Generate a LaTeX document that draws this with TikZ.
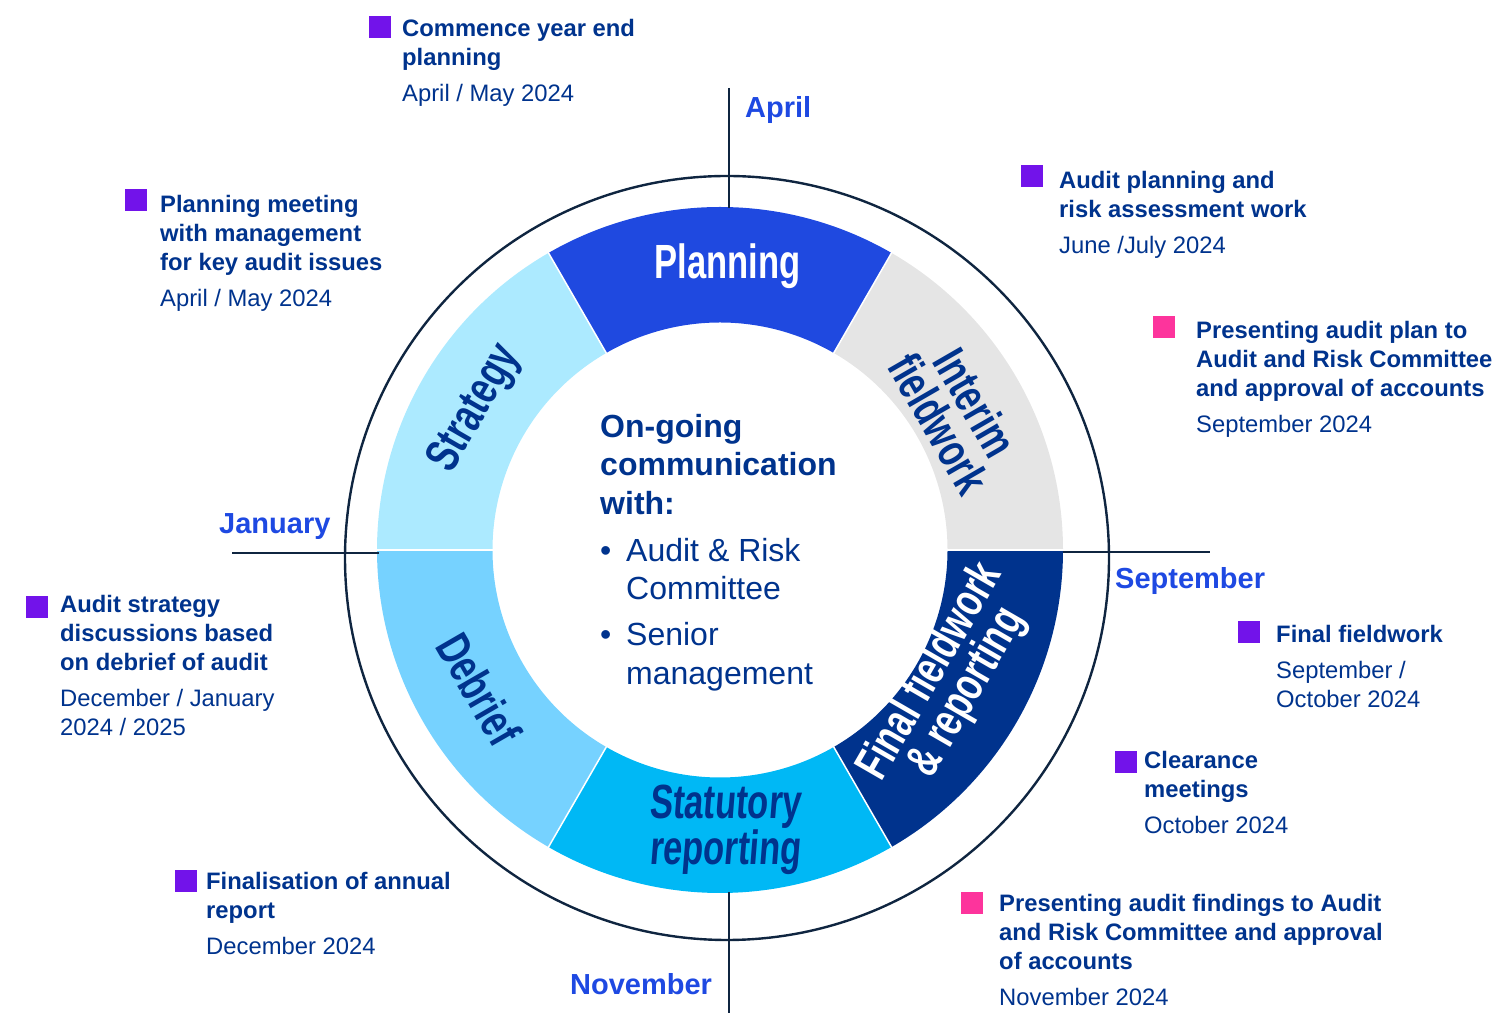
\documentclass[tikz,border=0pt]{standalone}
\usepackage{fontspec}
\setmainfont{Liberation Sans}
\newfontfamily\segfont[FakeStretch=0.72]{Liberation Sans}
\newfontfamily\segslant[FakeStretch=0.72,FakeSlant=0.08]{Liberation Sans}
\definecolor{auditnavy}{HTML}{00338D}
\definecolor{monthblue}{HTML}{1E49E2}
\definecolor{linenavy}{HTML}{0F2540}
\definecolor{planblue}{HTML}{1F49E0}
\definecolor{interimgray}{HTML}{E5E5E5}
\definecolor{finalnavy}{HTML}{00338D}
\definecolor{statblue}{HTML}{00B8F5}
\definecolor{debriefblue}{HTML}{76D2FF}
\definecolor{strategyblue}{HTML}{ACEAFF}
\definecolor{boxpurple}{HTML}{7213EA}
\definecolor{boxpink}{HTML}{FD349C}
\begin{document}
\begin{tikzpicture}[x=1pt,y=1pt,
    seg/.style={font=\segfont\bfseries\fontsize{48}{42}\selectfont, align=center, inner sep=0pt},
    month/.style={anchor=base west, inner sep=0pt, text=monthblue, font=\bfseries\fontsize{29}{34}\selectfont},
    task/.style={anchor=base west, align=left, inner sep=0pt, text=auditnavy, font=\fontsize{23.8}{29}\selectfont},
    tick/.style={line width=2.4pt, draw=linenavy},
    keybox/.style={fill=#1, minimum size=22pt, inner sep=0pt, anchor=south west}]
    \useasboundingbox (0,0) rectangle (1511,1016);
    \coordinate (C) at (720,466);
    % ring of phases
    \foreach \a/\col in {0/interimgray, 60/planblue, 120/strategyblue, 180/debriefblue, 240/statblue, 300/finalnavy}
        \fill[\col] ([shift={(\a:343pt)}]C) arc[start angle=\a, delta angle=60, radius=343pt]
            -- ([shift={(\a+60:227.5pt)}]C) arc[start angle=\a+60, delta angle=-60, radius=227.5pt] -- cycle;
    \foreach \a in {0,60,...,300}
        \draw[white, line width=1.5pt] ([shift={(\a:227pt)}]C) -- ([shift={(\a:344pt)}]C);
    % outer circle and month ticks
    \draw[tick] (727,458) circle[radius=382pt];
    \coordinate (aprA) at (729,928);  \coordinate (aprB) at (729,808);
    \coordinate (novA) at (729,124);  \coordinate (novB) at (729,3);
    \coordinate (janA) at (232,463);  \coordinate (janB) at (379,463);
    \coordinate (sepA) at (1063,464); \coordinate (sepB) at (1210,464);
    \draw[tick] (aprA) -- (aprB);
    \draw[tick] (novA) -- (novB);
    \draw[tick] (janA) -- (janB);
    \draw[tick] (sepA) -- (sepB);
    % phase names
    \node[seg, text=white] (planning) at ([shift={(88.5:284pt)}]C) {Planning};
    \node[seg, text=auditnavy, rotate=-60] (interim) at ([shift={(30:274pt)}]C) {Interim\\fieldwork};
    \node[seg, text=white, rotate=60] (final) at ([shift={(-30:265pt)}]C) {Final fieldwork\\\& reporting};
    \node[seg, text=auditnavy, font=\segslant\bfseries\fontsize{48}{42}\selectfont] (statutory) at ([shift={(-89:280pt)}]C) {Statutory\\reporting};
    \node[seg, text=auditnavy, rotate=-60] (debrief) at ([shift={(210:278pt)}]C) {Debrief};
    \node[seg, text=auditnavy, rotate=60] (strategy) at ([shift={(150:282pt)}]C) {Strategy};
    % centre (anchored on the last line)
    \node[anchor=base west, align=left, inner sep=0pt, text=auditnavy, font=\fontsize{32}{38.5}\selectfont] (comms) at (600,331.5)
        {\textbf{On-going}\\\textbf{communication}\\\textbf{with:}\\[8.5pt]\makebox[26pt][l]{\textbullet}Audit \& Risk\\\hspace*{26pt}Committee\\[7.5pt]\makebox[26pt][l]{\textbullet}Senior\\\hspace*{26pt}management};
    % months
    \node[month] (april) at (745,898.5) {April};
    \node[month] (january) at (219,482.5) {January};
    \node[month] (september) at (1115,427.5) {September};
    \node[month] (november) at (570,21.5) {November};
    % tasks (anchored on the date line)
    \node[keybox=boxpurple] (sq1) at (369,978) {};
    \node[task] (t1) at (402,914.5) {\textbf{Commence year end}\\\textbf{planning}\\[7pt]April / May 2024};
    \node[keybox=boxpurple] (sq2) at (125,805) {};
    \node[task] (t2) at (160,709.5) {\textbf{Planning meeting}\\\textbf{with management}\\\textbf{for key audit issues}\\[7pt]April / May 2024};
    \node[keybox=boxpurple] (sq3) at (1021,829) {};
    \node[task] (t3) at (1059,762.5) {\textbf{Audit planning and}\\\textbf{risk assessment work}\\[7pt]June /July 2024};
    \node[keybox=boxpink] (sq4) at (1153,678) {};
    \node[task] (t4) at (1196,583.5) {\textbf{Presenting audit plan to}\\\textbf{Audit and Risk Committee}\\\textbf{and approval of accounts}\\[7pt]September 2024};
    \node[keybox=boxpurple] (sq5) at (26,398) {};
    \node[task] (t5) at (60,280.5) {\textbf{Audit strategy}\\\textbf{discussions based}\\\textbf{on debrief of audit}\\[7pt]December / January\\2024 / 2025};
    \node[keybox=boxpurple] (sq6) at (1238,373) {};
    \node[task] (t6) at (1276,308.5) {\textbf{Final fieldwork}\\[7pt]September /\\October 2024};
    \node[keybox=boxpurple] (sq7) at (1115,243) {};
    \node[task] (t7) at (1144,182.5) {\textbf{Clearance}\\\textbf{meetings}\\[7pt]October 2024};
    \node[keybox=boxpurple] (sq8) at (175,124) {};
    \node[task] (t8) at (206,61.5) {\textbf{Finalisation of annual}\\\textbf{report}\\[7pt]December 2024};
    \node[keybox=boxpink] (sq9) at (961,102) {};
    \node[task] (t9) at (999,10.5) {\textbf{Presenting audit findings to Audit}\\\textbf{and Risk Committee and approval}\\\textbf{of accounts}\\[7pt]November 2024};
\end{tikzpicture}
\end{document}
